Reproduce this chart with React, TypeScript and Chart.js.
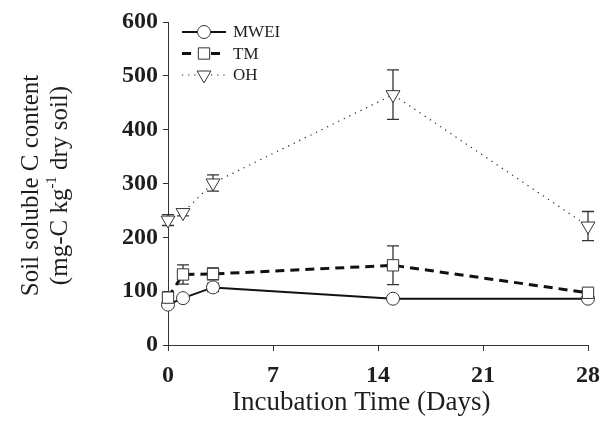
import { useEffect, useRef } from 'react';
import { Chart, registerables } from 'chart.js';

Chart.register(...registerables);

const days = [0, 1, 3, 15, 28];
const seriesLabels = ['MWEI', 'TM', 'OH'];
const mweiValues = [75, 87, 107, 86, 86];
const mweiErrors = [5, 3, 8, 3, 3];
const tmValues = [88, 131, 132, 148, 97];
const tmErrors = [10, 18, 11, 36, 4];
const ohValues = [232, 246, 301, 465, 221];
const ohErrors = [10, 6, 15, 46, 27];
const xTicks = [0, 7, 14, 21, 28];
const yTicks = [0, 100, 200, 300, 400, 500, 600];
const xTitle = 'Incubation Time (Days)';
const yTitleLine1 = 'Soil soluble C content';
const yTitleLine2 = ['(mg-C kg', '-1', ' dry soil)'];

const INK = '#1e1e1e';
const FONT = '"Liberation Serif", "Times New Roman", serif';

function drawMarker(ctx: CanvasRenderingContext2D, style: string, x: number, y: number, r: number) {
  ctx.beginPath();
  if (style === 'circle') {
    ctx.arc(x, y, r, 0, Math.PI * 2);
  } else if (style === 'rect') {
    const s = r * Math.SQRT1_2;
    ctx.rect(x - s, y - s, 2 * s, 2 * s);
  } else {
    const h = r;
    ctx.moveTo(x - h * 0.866, y - h * 0.5);
    ctx.lineTo(x + h * 0.866, y - h * 0.5);
    ctx.lineTo(x, y + h);
    ctx.closePath();
  }
  ctx.fillStyle = '#fff';
  ctx.fill();
  ctx.setLineDash([]);
  ctx.lineWidth = 1;
  ctx.strokeStyle = '#333';
  ctx.stroke();
}

const errorBarPlugin = {
  id: 'errorBars',
  beforeDatasetsDraw(chart: any) {
    const ctx = chart.ctx;
    const ys = chart.scales.y;
    chart.data.datasets.forEach((ds: any, i: number) => {
      const meta = chart.getDatasetMeta(i);
      meta.data.forEach((pt: any, j: number) => {
        const v = ds.data[j].y;
        const e = ds.errors[j];
        const top = ys.getPixelForValue(v + e);
        const bot = ys.getPixelForValue(v - e);
        ctx.save();
        ctx.strokeStyle = '#333';
        ctx.lineWidth = 1.3;
        ctx.setLineDash([]);
        ctx.beginPath();
        ctx.moveTo(pt.x, top);
        ctx.lineTo(pt.x, bot);
        ctx.moveTo(pt.x - 6, top);
        ctx.lineTo(pt.x + 6, top);
        ctx.moveTo(pt.x - 6, bot);
        ctx.lineTo(pt.x + 6, bot);
        ctx.stroke();
        ctx.restore();
      });
    });
  },
};

const markerPlugin = {
  id: 'customMarkers',
  afterDatasetsDraw(chart: any) {
    const ctx = chart.ctx;
    chart.data.datasets.forEach((ds: any, i: number) => {
      const meta = chart.getDatasetMeta(i);
      meta.data.forEach((pt: any) => {
        ctx.save();
        drawMarker(ctx, ds.markerStyle, pt.x, pt.y, ds.markerSize);
        ctx.restore();
      });
    });
  },
};

const legendPlugin = {
  id: 'customLegend',
  afterDraw(chart: any) {
    const ctx = chart.ctx;
    const x0 = 182;
    const y0 = 32;
    const gap = 21.5;
    chart.data.datasets.forEach((ds: any, i: number) => {
      const y = y0 + i * gap;
      ctx.save();
      ctx.strokeStyle = ds.borderColor;
      ctx.lineWidth = ds.borderWidth;
      ctx.setLineDash(ds.borderDash || []);
      ctx.beginPath();
      ctx.moveTo(x0, y);
      ctx.lineTo(x0 + 15, y);
      ctx.stroke();
      ctx.beginPath();
      ctx.moveTo(x0 + 29, y);
      ctx.lineTo(x0 + 44, y);
      ctx.stroke();
      ctx.restore();
      ctx.save();
      drawMarker(ctx, ds.markerStyle, x0 + 22, y, ds.markerSize);
      ctx.restore();
      ctx.save();
      ctx.fillStyle = INK;
      ctx.font = '17px ' + FONT;
      ctx.textAlign = 'left';
      ctx.textBaseline = 'middle';
      ctx.fillText(ds.label, x0 + 51, y + 1);
      ctx.restore();
    });
  },
};

const titlesPlugin = {
  id: 'axisTitles',
  afterDraw(chart: any) {
    const ctx = chart.ctx;
    const ca = chart.chartArea;
    const cy = (ca.top + ca.bottom) / 2 + 2;

    // x title
    ctx.save();
    ctx.fillStyle = INK;
    ctx.font = '27px ' + FONT;
    ctx.textAlign = 'center';
    ctx.textBaseline = 'middle';
    ctx.fillText(xTitle, ca.left + (ca.right - ca.left) * 0.46, 403);
    ctx.restore();

    // y title line 1
    ctx.save();
    ctx.fillStyle = INK;
    ctx.textBaseline = 'middle';
    ctx.translate(31, cy);
    ctx.rotate(-Math.PI / 2);
    ctx.font = '25px ' + FONT;
    ctx.textAlign = 'center';
    ctx.fillText(yTitleLine1, 0, 0);
    ctx.restore();

    // y title line 2 with superscript
    ctx.save();
    ctx.fillStyle = INK;
    ctx.textBaseline = 'middle';
    ctx.translate(60, cy);
    ctx.rotate(-Math.PI / 2);
    ctx.textAlign = 'left';
    const big = '25px ' + FONT;
    const small = '15px ' + FONT;
    ctx.font = big;
    const w1 = ctx.measureText(yTitleLine2[0]).width;
    const w3 = ctx.measureText(yTitleLine2[2]).width;
    ctx.font = small;
    const w2 = ctx.measureText(yTitleLine2[1]).width;
    let x = -(w1 + w2 + w3) / 2;
    ctx.font = big;
    ctx.fillText(yTitleLine2[0], x, 0);
    x += w1;
    ctx.font = small;
    ctx.fillText(yTitleLine2[1], x, -8);
    x += w2;
    ctx.font = big;
    ctx.fillText(yTitleLine2[2], x, 0);
    ctx.restore();
  },
};

export default function App() {
  const ref = useRef<HTMLCanvasElement | null>(null);

  useEffect(() => {
    if (!ref.current) return;
    const toPts = (vals: number[]) => days.map((d, i) => ({ x: d, y: vals[i] }));
    const chart = new Chart(ref.current, {
      type: 'line',
      data: {
        datasets: [
          {
            label: seriesLabels[0],
            data: toPts(mweiValues),
            errors: mweiErrors,
            borderColor: '#111',
            borderWidth: 2,
            borderDash: [],
            pointRadius: 0,
            markerStyle: 'circle',
            markerSize: 6.5,
            tension: 0,
          } as any,
          {
            label: seriesLabels[1],
            data: toPts(tmValues),
            errors: tmErrors,
            borderColor: '#111',
            borderWidth: 3,
            borderDash: [9, 6],
            pointRadius: 0,
            markerStyle: 'rect',
            markerSize: 8,
            tension: 0,
          } as any,
          {
            label: seriesLabels[2],
            data: toPts(ohValues),
            errors: ohErrors,
            borderColor: '#222',
            borderWidth: 1.2,
            borderDash: [1.2, 5],
            pointRadius: 0,
            markerStyle: 'triangle',
            markerSize: 8,
            tension: 0,
          } as any,
        ],
      },
      options: {
        responsive: false,
        animation: false,
        layout: { padding: { left: 0, top: 22, right: 15, bottom: 0 } },
        plugins: {
          legend: { display: false },
          tooltip: { enabled: false },
        },
        scales: {
          x: {
            type: 'linear',
            min: 0,
            max: 28,
            afterBuildTicks: (scale: any) => {
              scale.ticks = xTicks.map((v) => ({ value: v }));
            },
            afterFit: (scale: any) => {
              scale.height = 81;
              scale.paddingLeft = 0;
              scale.paddingRight = 0;
            },
            grid: {
              display: true,
              drawOnChartArea: false,
              drawTicks: true,
              tickLength: 6,
              color: '#333',
            },
            border: { display: true, color: '#333', width: 1 },
            ticks: {
              color: INK,
              padding: 10,
              maxRotation: 0,
              autoSkip: false,
              font: { family: FONT, size: 24, weight: 'bold' },
            },
          },
          y: {
            type: 'linear',
            min: 0,
            max: 600,
            afterBuildTicks: (scale: any) => {
              scale.ticks = yTicks.map((v) => ({ value: v }));
            },
            afterFit: (scale: any) => {
              scale.width = 168;
            },
            grid: {
              display: true,
              drawOnChartArea: false,
              drawTicks: true,
              tickLength: 5,
              color: '#333',
            },
            border: { display: true, color: '#333', width: 1 },
            ticks: {
              color: INK,
              padding: 5,
              autoSkip: false,
              font: { family: FONT, size: 24, weight: 'bold' },
            },
          },
        },
      },
      plugins: [errorBarPlugin, markerPlugin, legendPlugin, titlesPlugin],
    } as any);
    return () => chart.destroy();
  }, []);

  return (
    <div style={{ position: 'absolute', left: 0, top: 0, width: 603, height: 426, background: '#fff' }}>
      <canvas ref={ref} width={603} height={426} style={{ display: 'block' }} />
    </div>
  );
}
